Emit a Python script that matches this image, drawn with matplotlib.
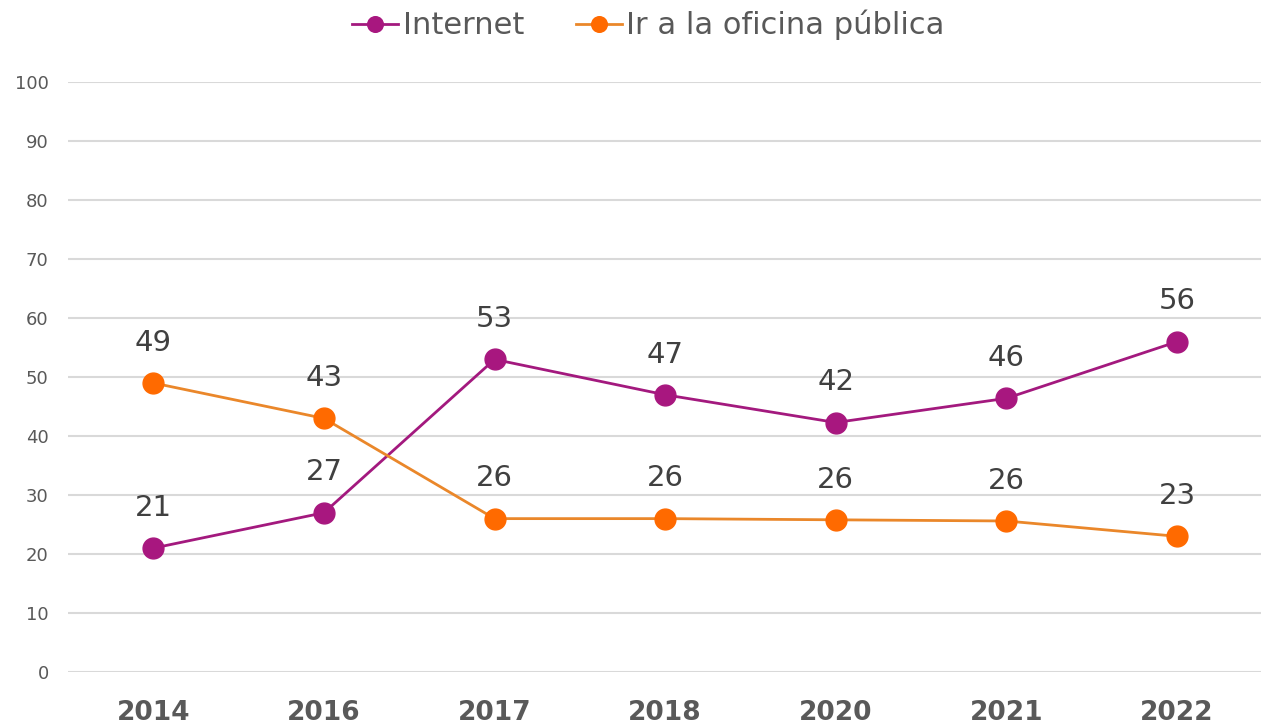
import matplotlib.pyplot as plt
import numpy as np

# datos
years = ["2014", "2016", "2017", "2018", "2020", "2021", "2022"]
internet = [21, 27, 53, 47, 42.3, 46.4, 56]
oficina = [49, 43, 26, 26, 25.8, 25.6, 23]
lbl_internet = ["21", "27", "53", "47", "42", "46", "56"]
lbl_oficina = ["49", "43", "26", "26", "26", "26", "23"]

plt.rcParams['font.family'] = ['DejaVu Sans']

fig = plt.figure(figsize=(12.61, 7.28), dpi=100)
ax = fig.add_axes([0.054, 0.077, 0.947, 0.810])

x = np.arange(len(years))

ax.plot(x, internet, color="#A3197E", lw=2, marker="o", ms=15,
        mfc="#A8177F", mec="#A8177F", label="Internet", zorder=3)
ax.plot(x, oficina, color="#EA872A", lw=2, marker="o", ms=15,
        mfc="#FF6A00", mec="#FF6A00", label="Ir a la oficina pública", zorder=3)

for xi, v, t in zip(x, internet, lbl_internet):
    ax.annotate(t, (xi, v), xytext=(0, 29), textcoords="offset points",
                ha="center", va="center", fontsize=21, color="#404040")
for xi, v, t in zip(x, oficina, lbl_oficina):
    ax.annotate(t, (xi, v), xytext=(0, 29), textcoords="offset points",
                ha="center", va="center", fontsize=21, color="#404040")

ax.set_xlim(-0.5, len(years) - 0.5)
ax.set_ylim(0, 100)
ax.set_yticks(np.arange(0, 101, 10))
ax.set_xticks(x)
ax.set_xticklabels(years, fontsize=19, fontweight="bold", color="#595959")
ax.tick_params(axis="y", labelsize=13, labelcolor="#595959", length=0, pad=14)
ax.tick_params(axis="x", length=0, pad=20)
ax.grid(axis="y", color="#d9d9d9", lw=1.5)
ax.set_axisbelow(True)
for s in ax.spines.values():
    s.set_visible(False)

ax.legend(loc="center", bbox_to_anchor=(0.486, 1.097), ncol=2, frameon=False,
          fontsize=22, labelcolor="#595959", markerscale=0.75,
          handlelength=1.5, handletextpad=0.15, columnspacing=1.7)

fig.savefig("out.png", dpi=100)
